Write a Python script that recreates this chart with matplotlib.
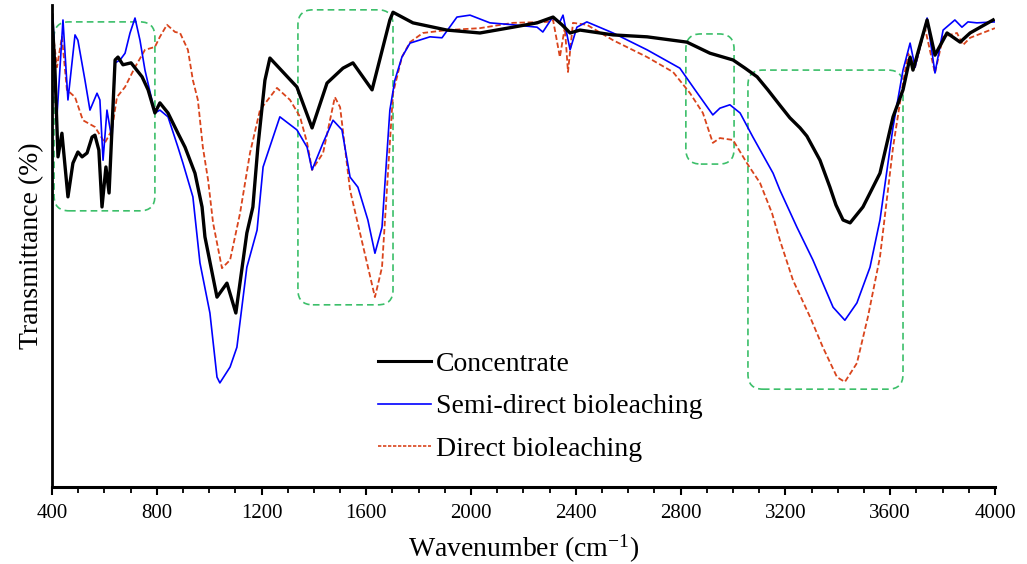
import matplotlib
matplotlib.use("Agg")
import matplotlib.pyplot as plt
from matplotlib.patches import FancyBboxPatch
from matplotlib.lines import Line2D
from matplotlib.ticker import MultipleLocator

plt.rcParams['font.family'] = ['Liberation Serif', 'DejaVu Serif']
plt.rcParams['mathtext.default'] = 'regular'

# FTIR spectra, transmittance in arbitrary % units (axis has no y ticks)
conc_wn = [400, 411, 423, 438, 461, 480, 499, 515, 534, 553, 564, 579, 591, 606, 618,
           641, 652, 671, 702, 744, 767, 793, 812, 843, 881, 908, 946, 973, 984, 1030,
           1068, 1102, 1144, 1167, 1186, 1213, 1232, 1335, 1393, 1450, 1511, 1549, 1622,
           1690, 1702, 1778, 1908, 2034, 2160, 2252, 2313, 2347, 2378, 2416, 2542, 2672,
           2824, 2912, 3000, 3046, 3092, 3133, 3179, 3217, 3256, 3282, 3305, 3332, 3370,
           3393, 3420, 3447, 3496, 3523, 3561, 3611, 3649, 3676, 3687, 3741, 3771, 3817,
           3867, 3905, 3993]
conc_t = [97.9, 87.1, 68.5, 73.4, 60.2, 67.2, 69.5, 68.5, 69.3, 72.6, 73.0, 69.9, 58.1,
          66.4, 61.0, 88.6, 89.2, 87.6, 88.0, 85.1, 82.4, 77.6, 79.7, 77.6, 73.4, 70.5,
          65.1, 58.1, 51.9, 39.4, 42.3, 36.1, 52.7, 58.1, 70.5, 84.4, 89.0, 83.0, 74.5,
          83.8, 86.9, 88.0, 82.4, 96.9, 98.5, 96.3, 94.8, 94.2, 95.4, 96.3, 97.5, 95.9,
          94.2, 94.8, 93.8, 93.4, 92.3, 90.0, 88.6, 86.9, 85.1, 82.4, 79.2, 76.6, 74.5,
          72.8, 70.5, 67.8, 62.2, 58.5, 55.4, 54.8, 58.1, 61.0, 65.1, 76.8, 82.4, 89.2,
          86.5, 96.9, 89.6, 94.2, 92.3, 94.2, 96.9]

semi_wn = [404, 419, 442, 461, 488, 499, 526, 545, 572, 583, 595, 610, 629, 641, 660,
           679, 698, 717, 736, 755, 793, 812, 843, 881, 900, 938, 965, 1003, 1030, 1041,
           1080, 1106, 1144, 1183, 1206, 1270, 1335, 1374, 1393, 1435, 1473, 1507, 1538,
           1568, 1606, 1633, 1660, 1690, 1709, 1736, 1767, 1843, 1889, 1946, 1996, 2072,
           2160, 2252, 2274, 2309, 2339, 2351, 2378, 2404, 2442, 2542, 2672, 2797, 2855,
           2923, 2950, 2988, 3027, 3076, 3153, 3179, 3244, 3305, 3382, 3427, 3473, 3523,
           3561, 3611, 3649, 3676, 3695, 3741, 3771, 3802, 3847, 3874, 3897, 3931, 4000]
semi_t = [96.9, 76.8, 96.9, 80.3, 93.8, 92.7, 84.4, 78.2, 81.7, 80.3, 67.8, 78.2, 72.0,
          88.0, 88.6, 90.0, 94.2, 97.3, 92.7, 86.5, 77.6, 78.2, 76.8, 70.5, 67.2, 60.2,
          46.5, 36.1, 22.8, 21.6, 24.9, 29.0, 45.6, 53.3, 66.4, 76.8, 74.1, 70.5, 65.8,
          71.4, 76.1, 74.1, 64.3, 62.2, 55.4, 48.5, 53.9, 78.2, 84.4, 89.2, 92.1, 93.4,
          93.2, 97.5, 97.9, 96.3, 95.9, 95.4, 94.4, 97.3, 96.5, 97.9, 90.7, 95.4, 96.5,
          94.2, 90.7, 86.9, 82.4, 77.2, 78.6, 79.3, 77.6, 72.6, 65.1, 61.6, 53.9, 47.1,
          37.3, 34.6, 38.2, 45.6, 55.4, 74.7, 86.5, 92.1, 87.1, 97.3, 85.9, 94.8, 96.9,
          95.4, 96.5, 96.3, 96.5]

direct_wn = [404, 419, 438, 457, 488, 518, 564, 602, 629, 648, 679, 717, 755, 793, 812,
             839, 870, 889, 919, 938, 957, 976, 996, 1015, 1049, 1080, 1118, 1156, 1194,
             1259, 1309, 1347, 1374, 1393, 1435, 1480, 1500, 1538, 1576, 1633, 1660, 1702,
             1736, 1767, 1816, 1908, 2034, 2160, 2290, 2313, 2339, 2358, 2370, 2389, 2442,
             2542, 2672, 2771, 2836, 2885, 2923, 2950, 3000, 3053, 3103, 3149, 3179, 3229,
             3294, 3343, 3397, 3427, 3473, 3515, 3561, 3611, 3645, 3668, 3695, 3733, 3771,
             3802, 3855, 3878, 3905, 4000]
direct_t = [94.2, 87.1, 93.4, 82.4, 80.9, 76.1, 74.7, 71.4, 74.1, 80.9, 83.0, 87.1, 90.7,
            91.3, 93.4, 95.9, 94.4, 94.2, 90.7, 84.4, 80.3, 70.5, 63.7, 54.8, 45.4, 47.1,
            56.8, 69.3, 78.2, 82.8, 80.3, 76.8, 71.4, 65.8, 69.3, 80.9, 78.8, 61.6, 52.7,
            39.4, 45.6, 81.7, 89.2, 92.3, 94.2, 94.8, 95.2, 96.3, 96.5, 96.9, 89.2, 95.4,
            86.1, 96.3, 95.9, 92.7, 89.2, 86.1, 81.7, 77.6, 71.4, 72.4, 72.0, 67.2, 63.1,
            56.8, 51.2, 42.9, 35.3, 29.0, 22.8, 21.8, 25.7, 35.3, 47.7, 70.5, 82.4, 90.0,
            87.1, 95.2, 85.9, 93.4, 94.2, 91.7, 93.2, 95.2]

labels = ["Concentrate", "Semi-direct bioleaching", "Direct bioleaching"]

# highlighted band regions: (wn_min, wn_max, t_min, t_max)
regions = [(408, 793, 57.3, 96.5),
           (1339, 1702, 37.8, 99.0),
           (2820, 3004, 67.0, 94.0),
           (3057, 3649, 20.3, 86.5)]

fig = plt.figure(figsize=(10.27, 5.64), dpi=100)
ax = fig.add_axes([0.0506, 0.1365, 0.9182, 0.8546])

red = '#d9441c'
ax.plot(direct_wn, direct_t, color=red, lw=1.3, ls=(0, (3, 1.5)), zorder=3)
ax.plot(semi_wn, semi_t, color='#0000ff', lw=1.2, zorder=4)
ax.plot(conc_wn, conc_t, color='black', lw=2.4, zorder=5)

green = '#3cbf6a'
for x0, x1, y0, y1 in regions:
    box = FancyBboxPatch((x0, y0), x1 - x0, y1 - y0,
                         boxstyle="round,pad=0,rounding_size=57",
                         mutation_aspect=0.0543, fill=False,
                         ec=green, lw=1.2, ls=(0, (4, 2.5)), zorder=2)
    ax.add_patch(box)

ax.set_xlim(400, 4000)
ax.set_ylim(0, 100)
ax.xaxis.set_major_locator(MultipleLocator(400))
ax.xaxis.set_minor_locator(MultipleLocator(100))
ax.tick_params(axis='x', which='major', direction='out', length=6, width=1.5,
               labelsize=15, pad=6)
ax.tick_params(axis='x', which='minor', direction='out', length=4, width=1.3)
ax.set_yticks([])
for s in ['top', 'right']:
    ax.spines[s].set_visible(False)
ax.spines['left'].set_linewidth(2)
ax.spines['bottom'].set_linewidth(2.2)

ax.set_xlabel("Wavenumber (cm$^{-1}$)", fontsize=20, labelpad=7)
ax.set_ylabel("Transmittance (%)", fontsize=20, labelpad=6)

handles = [Line2D([], [], color='black', lw=2.2),
           Line2D([], [], color='#0000ff', lw=1.2),
           Line2D([], [], color=red, lw=1.2, ls=(0, (2, 1)))]
fig.legend(handles, labels, loc='upper left', bbox_to_anchor=(0.368, 0.377),
           frameon=False, fontsize=20, handlelength=1.9, handletextpad=0.2,
           labelspacing=0.62, borderpad=0, borderaxespad=0)

fig.savefig("out.png", dpi=100)
